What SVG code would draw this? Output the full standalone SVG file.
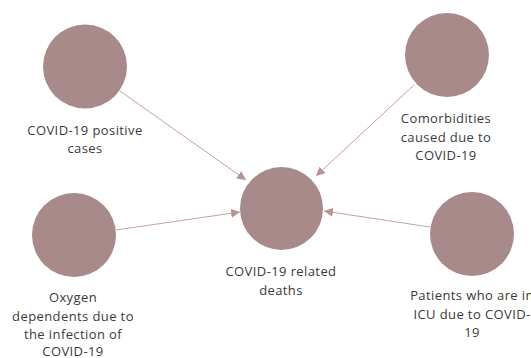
<svg xmlns="http://www.w3.org/2000/svg" width="531" height="358" viewBox="0 0 531 358">
<defs>
<style>
.n{fill:#a88a8b;}
.t{font-family:"Open Sans","Noto Sans",sans-serif;font-size:13px;letter-spacing:0.4px;fill:#3a3a3a;text-anchor:middle;}
.e{stroke:#c4a2a2;stroke-width:1;fill:none;marker-end:url(#a);}
</style>
<marker id="a" viewBox="0 0 10 10" refX="10" refY="5" markerWidth="9" markerHeight="9" markerUnits="userSpaceOnUse" orient="auto">
<path d="M0,0 L10,5 L0,10 z" fill="#b89394"/>
</marker>
</defs>
<rect width="531" height="358" fill="#fff"/>
<g id="edges">
<line class="e" x1="120" y1="91" x2="246" y2="180"/>
<line class="e" x1="414" y1="85" x2="316" y2="176"/>
<line class="e" x1="116" y1="230" x2="240" y2="212"/>
<line class="e" x1="430" y1="227" x2="324" y2="211"/>
</g>
<g id="n1"><circle class="n" cx="85" cy="66.5" r="42"/>
<text class="t" x="85" y="135">COVID-19 positive</text>
<text class="t" x="85" y="153">cases</text></g>
<g id="n2"><circle class="n" cx="447" cy="55" r="42"/>
<text class="t" x="446" y="123">Comorbidities</text>
<text class="t" x="446" y="142">caused due to</text>
<text class="t" x="446" y="160">COVID-19</text></g>
<g id="n3"><circle class="n" cx="74" cy="235" r="42"/>
<text class="t" x="73" y="302">Oxygen</text>
<text class="t" x="73" y="321">dependents due to</text>
<text class="t" x="73" y="339">the infection of</text>
<text class="t" x="73" y="356">COVID-19</text></g>
<g id="center"><circle class="n" cx="281.5" cy="208.5" r="41.5"/>
<text class="t" x="281" y="276">COVID-19 related</text>
<text class="t" x="281" y="295">deaths</text></g>
<g id="n4"><circle class="n" cx="472" cy="234" r="42"/>
<text class="t" x="472" y="300">Patients who are in</text>
<text class="t" x="472" y="319">ICU due to COVID-</text>
<text class="t" x="472" y="337">19</text></g>
</svg>
